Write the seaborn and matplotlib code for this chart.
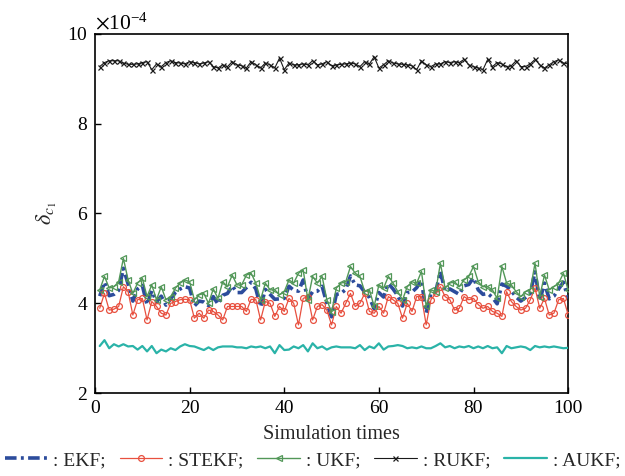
import numpy as np
import pandas as pd
import matplotlib
matplotlib.use("Agg")
import matplotlib.pyplot as plt
import seaborn as sns

# ---------------- data (values in units of 1e-4) ----------------
sim_times = list(range(1, 101))

ekf = [4.16, 4.47, 4.17, 4.20, 4.29, 4.78, 4.43, 4.05, 4.32, 4.40,
       3.97, 4.28, 4.03, 4.16, 3.96, 4.10, 4.24, 4.32, 4.37, 4.34,
       3.94, 4.05, 4.03, 3.95, 4.15, 3.98, 4.18, 4.22, 4.39, 4.24,
       4.24, 4.35, 4.47, 4.32, 3.92, 4.31, 4.20, 4.09, 4.10, 4.11,
       4.38, 4.29, 4.27, 4.52, 4.10, 4.26, 4.27, 4.38, 4.00, 3.70,
       4.20, 4.22, 4.31, 4.61, 4.41, 4.39, 4.25, 4.13, 3.88, 4.24,
       4.14, 4.44, 4.32, 4.17, 3.94, 4.24, 4.25, 4.35, 4.51, 3.79,
       4.22, 4.25, 4.71, 4.27, 4.32, 4.26, 4.20, 4.39, 4.42, 4.57,
       4.30, 4.20, 4.22, 4.13, 3.99, 4.43, 4.38, 4.28, 4.14, 4.05,
       4.13, 4.22, 4.70, 4.06, 4.45, 4.10, 4.16, 4.32, 4.47, 4.11]

stekf = [3.89, 4.22, 3.85, 3.87, 3.93, 4.37, 4.26, 3.74, 4.08, 4.11,
         3.63, 4.04, 3.93, 3.78, 3.74, 4.00, 4.04, 4.08, 4.09, 4.08,
         3.67, 3.78, 3.67, 3.85, 3.82, 3.74, 3.63, 3.93, 3.93, 3.93,
         3.93, 3.82, 4.09, 4.08, 3.63, 4.04, 4.00, 3.71, 3.93, 3.82,
         4.11, 4.00, 3.52, 4.11, 4.15, 3.63, 3.93, 3.97, 3.85, 3.52,
         3.93, 3.78, 4.00, 4.22, 3.93, 4.00, 4.22, 3.82, 3.78, 3.93,
         3.78, 4.15, 4.08, 4.00, 3.67, 4.00, 3.82, 4.15, 4.15, 3.52,
         4.08, 4.22, 4.37, 4.15, 4.08, 3.85, 3.89, 4.15, 4.08, 4.11,
         3.97, 3.89, 3.93, 3.82, 3.78, 3.71, 4.26, 4.04, 3.93, 3.85,
         3.89, 4.08, 4.34, 3.89, 4.11, 3.74, 3.78, 4.08, 4.11, 3.75]

ukf = [4.30, 4.60, 4.34, 4.37, 4.48, 5.00, 4.52, 4.22, 4.45, 4.56,
       4.15, 4.41, 4.08, 4.37, 4.08, 4.15, 4.34, 4.45, 4.52, 4.48,
       4.08, 4.19, 4.22, 4.00, 4.32, 4.11, 4.48, 4.37, 4.63, 4.41,
       4.41, 4.63, 4.67, 4.45, 4.08, 4.45, 4.30, 4.30, 4.19, 4.26,
       4.52, 4.45, 4.67, 4.74, 4.08, 4.60, 4.45, 4.60, 4.08, 3.80,
       4.34, 4.45, 4.48, 4.82, 4.67, 4.60, 4.26, 4.30, 3.93, 4.41,
       4.34, 4.60, 4.45, 4.26, 4.08, 4.37, 4.48, 4.45, 4.71, 3.93,
       4.30, 4.26, 4.89, 4.34, 4.45, 4.48, 4.37, 4.52, 4.60, 4.82,
       4.48, 4.37, 4.37, 4.30, 4.11, 4.82, 4.45, 4.41, 4.26, 4.15,
       4.26, 4.30, 4.89, 4.15, 4.63, 4.30, 4.37, 4.45, 4.67, 4.30]

rukf = [9.27, 9.36, 9.40, 9.40, 9.40, 9.35, 9.32, 9.32, 9.33, 9.36,
        9.38, 9.20, 9.33, 9.27, 9.36, 9.40, 9.36, 9.35, 9.33, 9.38,
        9.36, 9.33, 9.35, 9.38, 9.27, 9.24, 9.31, 9.27, 9.38, 9.31,
        9.29, 9.24, 9.38, 9.31, 9.24, 9.35, 9.31, 9.24, 9.46, 9.20,
        9.35, 9.31, 9.31, 9.33, 9.31, 9.40, 9.31, 9.33, 9.38, 9.29,
        9.31, 9.32, 9.33, 9.35, 9.33, 9.27, 9.38, 9.33, 9.49, 9.24,
        9.31, 9.40, 9.35, 9.33, 9.32, 9.31, 9.29, 9.20, 9.40, 9.31,
        9.27, 9.33, 9.33, 9.38, 9.36, 9.38, 9.36, 9.43, 9.31, 9.27,
        9.24, 9.20, 9.43, 9.27, 9.36, 9.33, 9.27, 9.29, 9.40, 9.27,
        9.27, 9.33, 9.43, 9.31, 9.24, 9.31, 9.38, 9.42, 9.35, 9.33]

aukf = [3.05, 3.18, 3.00, 3.09, 3.04, 3.09, 3.04, 3.05, 2.97, 3.05,
        2.93, 3.05, 2.89, 2.97, 2.93, 3.00, 2.96, 3.04, 3.09, 3.05,
        3.04, 3.00, 2.96, 3.02, 2.96, 3.02, 3.04, 3.04, 3.04, 3.02,
        3.02, 3.00, 3.04, 3.02, 3.04, 3.00, 3.04, 2.89, 3.07, 2.96,
        2.97, 3.04, 3.00, 3.07, 2.93, 3.11, 3.00, 3.04, 2.97, 3.02,
        3.04, 3.02, 3.02, 3.02, 3.00, 3.07, 2.96, 3.04, 3.00, 3.11,
        2.97, 3.04, 3.05, 3.07, 3.05, 3.00, 3.02, 3.00, 3.04, 3.00,
        3.00, 3.05, 3.11, 3.02, 3.05, 3.00, 3.04, 3.02, 3.05, 3.00,
        3.04, 3.00, 3.05, 3.00, 3.02, 2.89, 3.05, 3.00, 3.02, 3.04,
        3.02, 2.96, 3.05, 3.02, 3.04, 3.02, 3.04, 3.02, 3.00, 3.01]

series_names = [": EKF;", ": STEKF;", ": UKF;", ": RUKF;", ": AUKF;"]
x_ticks = [0, 20, 40, 60, 80, 100]
y_ticks = [2, 4, 6, 8, 10]
scale = 1e-4

# ---------------- style ----------------
sns.set_theme(style="white")
plt.rcParams["font.family"] = ["Liberation Serif", "DejaVu Serif"]
plt.rcParams["mathtext.fontset"] = "stix"

fig = plt.figure(figsize=(6.25, 4.76), dpi=100)
ax = fig.add_axes([0.152, 0.174, 0.757, 0.755])

x = np.array(sim_times)
styles = [
    dict(data=ekf, color="#2c4c9c", lw=2.6, ls=(0, (3.2, 1.2, 0.8, 1.2)), marker=None),
    dict(data=stekf, color="#e8503f", lw=0.9, ls="-", marker="o", ms=4.2),
    dict(data=ukf, color="#529758", lw=1.0, ls="-", marker="<", ms=4.6),
    dict(data=rukf, color="#1a1a1a", lw=0.8, ls="-", marker="x", ms=3.6),
    dict(data=aukf, color="#2ab3a8", lw=1.6, ls="-", marker=None),
]
order = [4, 3, 1, 2, 0]
for i in order:
    s = styles[i]
    y = np.array(s["data"]) * scale
    kw = dict(x=x, y=y, ax=ax, color=s["color"], linewidth=s["lw"],
              label=series_names[i], zorder=3 + i)
    if s["marker"] is not None:
        kw.update(marker=s["marker"], markersize=s["ms"],
                  markerfacecolor="none" if s["marker"] != "x" else s["color"],
                  markeredgecolor=s["color"], markeredgewidth=0.9)
    sns.lineplot(**kw)
    ax.lines[-1].set_linestyle(s["ls"])

ax.set_xlim(0, 100)
ax.set_ylim(2e-4, 10e-4)
ax.set_xticks(x_ticks)
ax.set_yticks([v * scale for v in y_ticks])
ax.ticklabel_format(axis="y", style="sci", scilimits=(-4, -4), useMathText=True)
ax.yaxis.get_offset_text().set_fontsize(15.5)
ax.tick_params(direction="in", length=4, width=1, labelsize=14, colors="black",
               top=False, right=False, left=True, bottom=True, pad=5)
for sp in ax.spines.values():
    sp.set_color("black")
    sp.set_linewidth(1.2)
ax.set_xlabel("Simulation times", fontsize=14.5, labelpad=6)
ax.set_ylabel(r"$\delta_{c_1}$", fontsize=16, labelpad=6)
if ax.get_legend() is not None:
    ax.get_legend().remove()

handles, labels = ax.get_legend_handles_labels()
hmap = dict(zip(labels, handles))
fig.legend([hmap[n] for n in series_names], series_names,
           loc="lower center", bbox_to_anchor=(0.5, -0.01), ncol=5,
           frameon=False, fontsize=14, handlelength=2.2, handletextpad=0.3,
           columnspacing=0.7, borderaxespad=0.2)

fig.savefig("out.png", dpi=100)
